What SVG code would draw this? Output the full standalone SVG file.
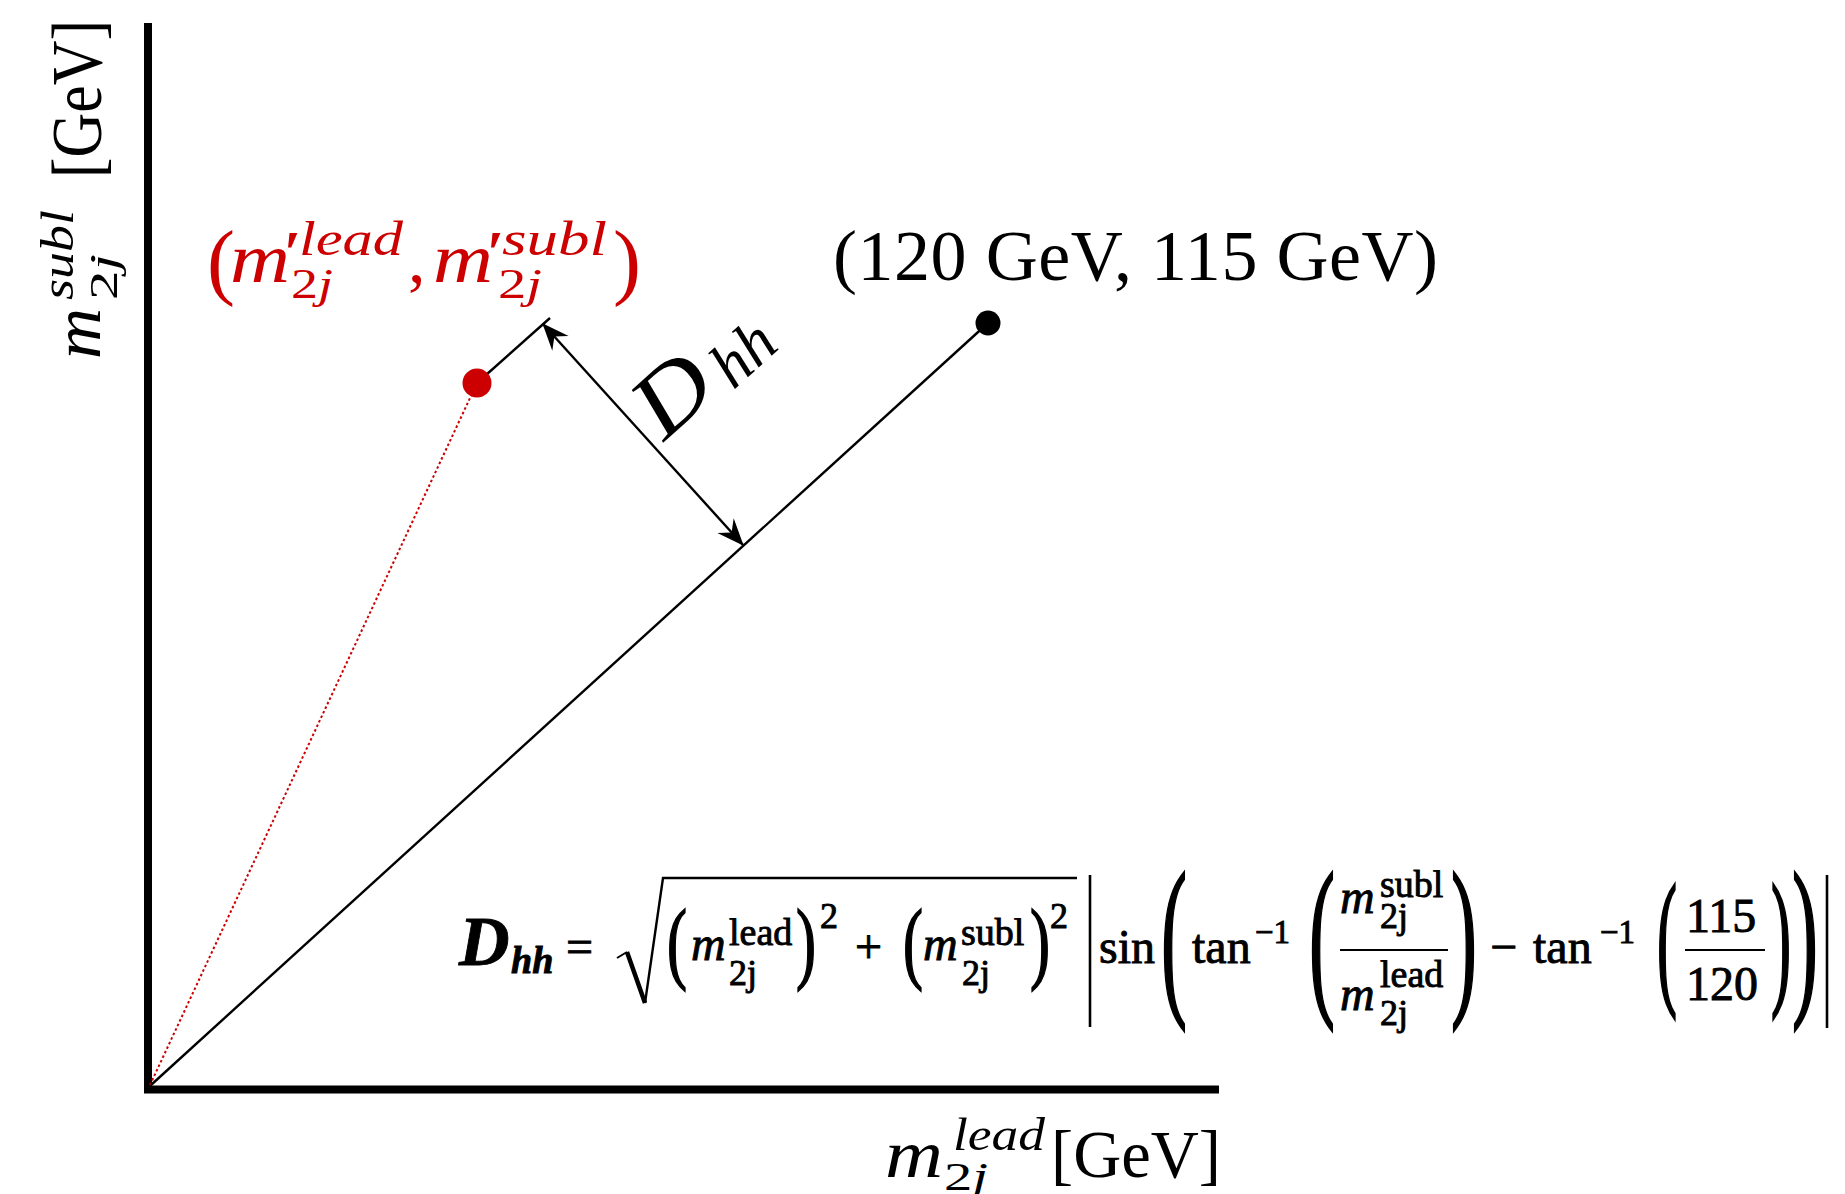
<svg xmlns="http://www.w3.org/2000/svg" width="1845" height="1194" viewBox="0 0 1845 1194">
<defs>
<style>
text{font-family:"Liberation Serif","Times New Roman",serif;fill:#000}
.i{font-style:italic}
.red{fill:#cc0000}
.f{font-size:48px}
#formula text{stroke:#000;stroke-width:0.9}
.ax{stroke:#000;stroke-width:8;stroke-linecap:butt}
.thin{stroke:#000;stroke-width:2.4;fill:none}
</style>
<marker id="ah" viewBox="-30 -14 32 28" refX="0" refY="0" markerWidth="32" markerHeight="28" markerUnits="userSpaceOnUse" orient="auto-start-reverse">
<path d="M1,0 L-26,-11 L-17,0 L-26,11 Z" fill="#000"/>
</marker>
</defs>
<rect width="1845" height="1194" fill="#fff"/>

<g id="axes">
<line class="ax" x1="148" y1="23" x2="148" y2="1093"/>
<line class="ax" x1="144" y1="1089.5" x2="1219" y2="1089.5"/>
</g>

<g id="connectors">
<line x1="150" y1="1085" x2="477" y2="383" stroke="#cc0000" stroke-width="2" stroke-dasharray="2.5,2.5"/>
<line class="thin" x1="151" y1="1085" x2="988" y2="323"/>
<line class="thin" x1="477" y1="383" x2="550" y2="318"/>
<line class="thin" x1="543" y1="324" x2="743" y2="545" marker-start="url(#ah)" marker-end="url(#ah)"/>
</g>

<g id="point-target">
<circle cx="988" cy="323" r="12.5" fill="#000"/>
<text x="833" y="280" font-size="72" textLength="605" lengthAdjust="spacing">(120 GeV, 115 GeV)</text>
</g>

<g id="point-measured">
<circle cx="477" cy="383" r="14.5" fill="#cc0000"/>
<text class="red" x="207" y="289" font-size="84">(</text>
<text class="red i" x="230" y="282" font-size="70" textLength="60" lengthAdjust="spacingAndGlyphs">m</text>
<text class="red i" x="283" y="273" font-size="62" font-weight="bold">′</text>
<text class="red i" x="299" y="255" font-size="48" textLength="104" lengthAdjust="spacingAndGlyphs">lead</text>
<text class="red" x="291" y="298" font-size="42" textLength="42" lengthAdjust="spacingAndGlyphs">2<tspan class="i">j</tspan></text>
<text class="red" x="408" y="282" font-size="70">,</text>
<text class="red i" x="433" y="282" font-size="70" textLength="60" lengthAdjust="spacingAndGlyphs">m</text>
<text class="red i" x="486" y="273" font-size="62" font-weight="bold">′</text>
<text class="red i" x="502" y="255" font-size="48" textLength="105" lengthAdjust="spacingAndGlyphs">subl</text>
<text class="red" x="498" y="298" font-size="42" textLength="44" lengthAdjust="spacingAndGlyphs">2<tspan class="i">j</tspan></text>
<text class="red" x="613" y="289" font-size="84">)</text>
</g>

<g id="label-dhh" transform="translate(664,442) rotate(-42)">
<text class="i" x="0" y="0" font-size="92" textLength="76" lengthAdjust="spacingAndGlyphs">D</text>
<text class="i" x="86" y="8" font-size="64">hh</text>
</g>

<g id="y-label">
<text class="i" transform="rotate(-90)" x="-359" y="100" font-size="68" textLength="51" lengthAdjust="spacingAndGlyphs">m</text>
<text class="i" transform="rotate(-90)" x="-300" y="73" font-size="46" textLength="90" lengthAdjust="spacingAndGlyphs">subl</text>
<text transform="rotate(-90)" x="-300" y="117" font-size="40" textLength="46" lengthAdjust="spacingAndGlyphs">2<tspan class="i">j</tspan></text>
<text transform="rotate(-90)" x="-178" y="101" font-size="72" textLength="158" lengthAdjust="spacingAndGlyphs">[GeV]</text>
</g>

<g id="x-label">
<text class="i" x="885" y="1177" font-size="68" textLength="58" lengthAdjust="spacingAndGlyphs">m</text>
<text class="i" x="953" y="1150" font-size="46" textLength="92" lengthAdjust="spacingAndGlyphs">lead</text>
<text x="944" y="1190" font-size="40" textLength="44" lengthAdjust="spacingAndGlyphs">2<tspan class="i">j</tspan></text>
<text x="1051" y="1177" font-size="68" textLength="170" lengthAdjust="spacingAndGlyphs">[GeV]</text>
</g>

<g id="formula">
<text class="i" x="459" y="965" font-size="70" font-weight="bold">D</text>
<text class="i" x="511" y="973" font-size="38" font-weight="bold">hh</text>
<text class="f" x="566" y="963">=</text>
<path d="M617,958 L627,952" stroke="#000" stroke-width="2" fill="none"/>
<path d="M627,952 L645,1003" stroke="#000" stroke-width="4.5" fill="none"/>
<path d="M645,1003 L663,878 L1077,878" stroke="#000" stroke-width="2.4" fill="none"/>
<text class="f" transform="translate(667,972) scale(1.25,1.9)">(</text>
<text class="f i" x="691" y="960">m</text>
<text x="729" y="945" font-size="38">lead</text>
<text x="729" y="985" font-size="36">2j</text>
<text class="f" transform="translate(796,972) scale(1.25,1.9)">)</text>
<text x="820" y="928" font-size="36">2</text>
<text class="f" x="855" y="963">+</text>
<text class="f" transform="translate(903,972) scale(1.25,1.9)">(</text>
<text class="f i" x="923" y="960">m</text>
<text x="961" y="945" font-size="38">subl</text>
<text x="962" y="985" font-size="36">2j</text>
<text class="f" transform="translate(1030,972) scale(1.25,1.9)">)</text>
<text x="1050" y="928" font-size="36">2</text>
<line x1="1090" y1="875" x2="1090" y2="1027" stroke="#000" stroke-width="2.6"/>
<text class="f" x="1099" y="963">sin</text>
<text transform="translate(1161,994) scale(1.3,2.93)" font-size="60">(</text>
<text class="f" x="1192" y="963">tan</text>
<text x="1255" y="943" font-size="33">−1</text>
<text transform="translate(1309,994) scale(1.3,2.93)" font-size="60">(</text>
<text class="f i" x="1340" y="913">m</text>
<text x="1380" y="897" font-size="38">subl</text>
<text x="1380" y="928" font-size="36">2j</text>
<line x1="1340" y1="950" x2="1448" y2="950" stroke="#000" stroke-width="2.2"/>
<text class="f i" x="1340" y="1010">m</text>
<text x="1380" y="987" font-size="38">lead</text>
<text x="1380" y="1025" font-size="36">2j</text>
<text transform="translate(1451,994) scale(1.3,2.93)" font-size="60">)</text>
<text class="f" x="1490" y="963">−</text>
<text class="f" x="1533" y="963">tan</text>
<text x="1600" y="943" font-size="33">−1</text>
<text class="f" transform="translate(1657,988) scale(1.25,3.12)">(</text>
<text class="f" x="1686" y="932">115</text>
<line x1="1685" y1="950" x2="1765" y2="950" stroke="#000" stroke-width="2.2"/>
<text class="f" x="1686" y="1000">120</text>
<text class="f" transform="translate(1771,988) scale(1.25,3.12)">)</text>
<text transform="translate(1792,994) scale(1.3,2.93)" font-size="60">)</text>
<line x1="1827" y1="875" x2="1827" y2="1028" stroke="#000" stroke-width="2.6"/>
</g>
</svg>
